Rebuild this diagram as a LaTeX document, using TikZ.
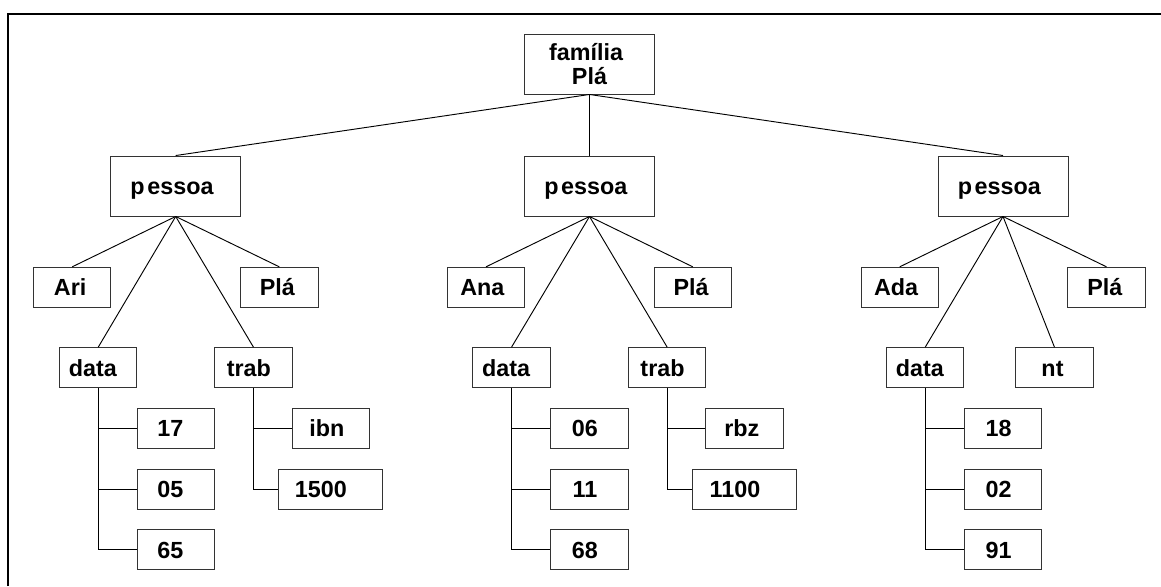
\documentclass[tikz,border=0pt]{standalone}
\usepackage{fontspec}
\setmainfont{Liberation Sans}
% label followed by a trailing pad, so the text sits a little left of the box centre
\newcommand\padr[2]{#2\kern#1pt}
\begin{document}
\begin{tikzpicture}[x=0.75pt,y=-0.75pt,
  box/.style={draw=black!80, line width=0.7pt, rectangle, inner sep=0pt,
    font=\fontsize{17.5}{18}\selectfont\bfseries, text height=12.5pt, text depth=0pt},
  top/.style={draw=black!80, line width=0.7pt, rectangle, inner sep=0pt,
    font=\fontsize{17.5}{17.5}\selectfont\bfseries,
    minimum width=97pt, minimum height=45pt, align=center,
    text height=30.5pt, text depth=0pt},
  group/.style={box, minimum width=97.5pt, minimum height=45pt},
  leaf/.style={box, minimum width=58pt, minimum height=30pt},
  wideleaf/.style={box, minimum width=78pt, minimum height=30pt},
  link/.style={line width=0.7pt, black},
  frame/.style={line width=1.5pt, black, line join=miter}]
\useasboundingbox (0,0) rectangle (1161,586);

% outer frame (left and top edges)
\draw[frame] (8,586) -- (8,14) -- (1161,14);

% root
\node[top] (fam) at (589.5,64) {\padr{5}{família}\\[0.5pt]Plá};

% people
\node[group] (p1) at (175.7,186) {\padr{5.5}{p\kern2pt essoa}};
\node[group] (p2) at (589.5,186) {\padr{5.5}{p\kern2pt essoa}};
\node[group] (p3) at (1003,186) {\padr{5.5}{p\kern2pt essoa}};

% first names and surnames
\node[leaf] (ari)  at (72.2,287.3)   {\padr{3}{Ari}};
\node[leaf] (pla1) at (279.3,287.3)  {\padr{3}{Plá}};
\node[leaf] (ana)  at (486,287.3)    {\padr{5.5}{Ana}};
\node[leaf] (pla2) at (692.8,287.3)  {\padr{2.5}{Plá}};
\node[leaf] (ada)  at (899.7,287.3)  {\padr{5.5}{Ada}};
\node[leaf] (pla3) at (1106.5,287.3) {\padr{2.5}{Plá}};

% date / job
\node[leaf] (d1) at (98.2,367.7)   {\padr{8}{data}};
\node[leaf] (t1) at (253.5,367.7)  {\padr{7}{trab}};
\node[leaf] (d2) at (511.5,367.7)  {\padr{8}{data}};
\node[leaf] (t2) at (667.2,367.7)  {\padr{7}{trab}};
\node[leaf] (d3) at (925.2,367.7)  {\padr{8}{data}};
\node[leaf] (nt) at (1054.5,367.7) {\padr{3}{nt}};

% date fields
\node[leaf] (d1a) at (175.7,428.3) {\padr{8}{17}};
\node[leaf] (d1b) at (175.7,489)   {\padr{8}{05}};
\node[leaf] (d1c) at (175.7,549.7) {\padr{8}{65}};
\node[leaf] (d2a) at (589.3,428.3) {\padr{6.5}{06}};
\node[leaf] (d2b) at (589.3,489)   {\padr{6.5}{11}};
\node[leaf] (d2c) at (589.3,549.7) {\padr{6.5}{68}};
\node[leaf] (d3a) at (1003,428.3)  {\padr{6.5}{18}};
\node[leaf] (d3b) at (1003,489)    {\padr{6.5}{02}};
\node[leaf] (d3c) at (1003,549.7)  {\padr{6.5}{91}};

% job fields
\node[leaf]     (t1a) at (330.8,428.3) {\padr{6}{ibn}};
\node[wideleaf] (t1b) at (330.8,489)   {\padr{15}{1500}};
\node[leaf]     (t2a) at (744.5,428.3) {\padr{4}{rbz}};
\node[wideleaf] (t2b) at (744.7,489)   {\padr{14.5}{1100}};

% root to people
\foreach \p in {p1,p2,p3} \draw[link] (fam.south) -- (\p.north);

% people to their fields
\foreach \p/\a/\b/\c/\d in {p1/ari/pla1/d1/t1, p2/ana/pla2/d2/t2, p3/ada/pla3/d3/nt}
  \foreach \q in {\a,\b,\c,\d} \draw[link] (\p.south) -- (\q.north);

% tree-style branches from date and job
\foreach \s/\t in {d1/d1a,d1/d1b,d1/d1c,d2/d2a,d2/d2b,d2/d2c,d3/d3a,d3/d3b,d3/d3c,
                   t1/t1a,t1/t1b,t2/t2a,t2/t2b}
  \draw[link] (\s.south) |- (\t.west);
\end{tikzpicture}
\end{document}
